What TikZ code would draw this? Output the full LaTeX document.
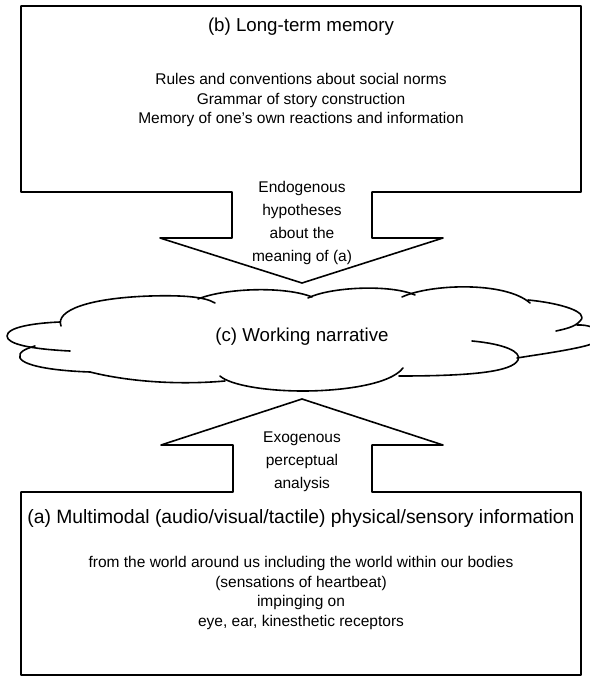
\documentclass[tikz,border=0pt]{standalone}
\usepackage{fontspec}
\setmainfont{Liberation Sans}

\begin{document}
\begin{tikzpicture}[line cap=round,line join=round,x=1pt,y=-1pt,
  outline/.style={line width=1.6pt},
  heading/.style={inner sep=0pt,font=\fontsize{18.7}{22}\selectfont},
  body/.style={inner sep=0pt,align=center,font=\fontsize{15.5}{19.6}\selectfont},
  flow/.style={inner sep=0pt,align=center,font=\fontsize{15.5}{22.8}\selectfont}]
\useasboundingbox (0,0) rectangle (589,677);
% (b) box, open at the bottom into the downward arrow
\draw[outline] (232,192) -- (21,192) -- (21,6) -- (581,6) -- (581,192) -- (372,192)
  -- (372,238) -- (443,238) -- (302,283) -- (160,238) -- (232,238) -- cycle;
% (a) box, open at the top into the upward arrow
\draw[outline] (233,492) -- (21,492) -- (21,675) -- (581,675) -- (581,492) -- (372,492)
  -- (372,445) -- (443,445) -- (302,399) -- (161,445) -- (233,445) -- cycle;
% the cloud, one arc at a time
\draw[outline] (70,351) .. controls (30,349) and (7,344) .. (7,336) .. controls (7,327) and (35,323) .. (60,322);
\draw[outline] (61,326) .. controls (55,310) and (90,298) .. (150,296) .. controls (185,295) and (205,297) .. (215,303);
\draw[outline] (198,299) .. controls (225,288) and (285,286) .. (312,297);
\draw[outline] (308,298) .. controls (330,287) and (390,284) .. (415,295);
\draw[outline] (402,297) .. controls (430,284) and (505,281) .. (530,303);
\draw[outline] (528,300) .. controls (560,303) and (590,312) .. (580,321) .. controls (575,327) and (565,329) .. (556,331);
\draw[outline] (577,325) .. controls (600,324) and (610,340) .. (585,346) .. controls (565,351) and (535,355) .. (517,358);
\draw[outline] (472,341) .. controls (505,344) and (522,352) .. (518,360) .. controls (512,372) and (470,376) .. (399,376);
\draw[outline] (403,368) .. controls (390,385) and (340,391) .. (303,391) .. controls (265,391) and (230,385) .. (220,376);
\draw[outline] (225,381) .. controls (180,385) and (130,382) .. (90,372);
\draw[outline] (90,372) .. controls (60,371) and (25,367) .. (20,358) .. controls (18,352) and (25,349) .. (35,346);
% texts
\node[heading] (ltm) at (301,27) {(b) Long-term memory};
\node[body] (ltmlist) at (301,100) {Rules and conventions about social norms\\Grammar of story construction\\Memory of one’s own reactions and information};
\node[flow] (endo) at (302,223) {Endogenous\\hypotheses\\about the\\meaning of (a)};
\node[heading] (wn) at (302,337) {(c) Working narrative};
\node[flow] (exo) at (302,462) {Exogenous\\perceptual\\analysis};
\node[heading,font=\fontsize{19.3}{23}\selectfont] (sens) at (301,519) {(a) Multimodal (audio/visual/tactile) physical/sensory information};
\node[body] (senslist) at (301,593) {from the world around us including the world within our bodies\\(sensations of heartbeat)\\impinging on\\eye, ear, kinesthetic receptors};
\end{tikzpicture}
\end{document}
